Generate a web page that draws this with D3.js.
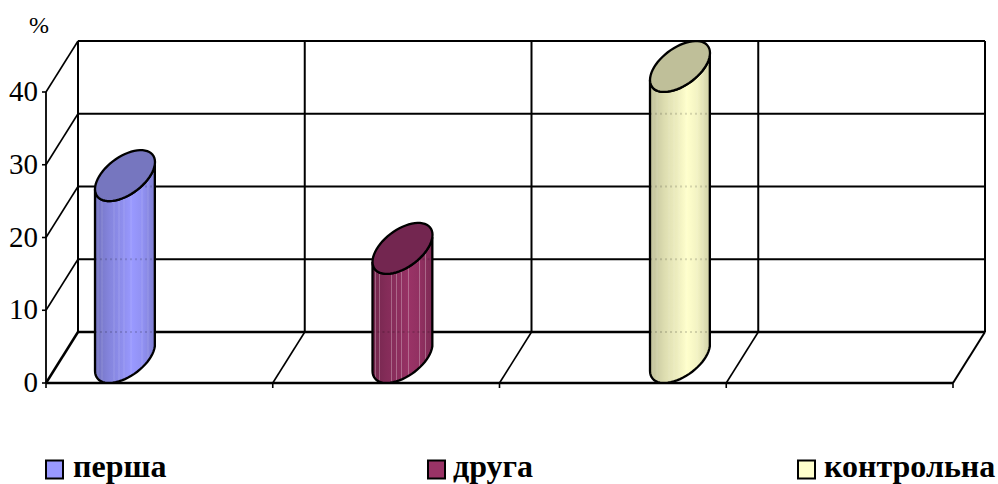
<!DOCTYPE html>
<html><head><meta charset="utf-8">
<script src="https://cdn.jsdelivr.net/npm/d3@7"></script>
<style>
html,body{margin:0;padding:0;background:#fff}
text{font-family:"Liberation Serif",serif;fill:#000}
</style></head><body><svg id="chart" width="998" height="484"></svg>
<script>
const seriesNames = ["перша", "друга", "контрольна"];
const seriesValues = [25, 15, 40];
const bodyColors = ["#9999ff", "#993366", "#ffffcc"];
const capColors = ["#7676bf", "#732650", "#bfbf99"];
const stripeOpacity = [0.14, 0.28, 0.12];
const yTicks = [0, 10, 20, 30, 40];
const slotTicks = [0, 1, 2, 3, 4];
const unitLabel = "%";

const svg = d3.select("#chart");
const y = d3.scaleLinear().domain([0, 40]).range([383, 92]);
const xFront = d3.scaleLinear().domain([0, 4]).range([46, 953]);
const xBar = d3.scalePoint().domain(seriesNames).range([109, 664]);
const depth = { dx: 32, dy: -51 };
const radius = 30;

const grid = svg.append("g").attr("stroke", "#000").attr("fill", "none");
const line = (g, x1, y1, x2, y2, w) => g.append("line")
  .attr("x1", x1).attr("y1", y1).attr("x2", x2).attr("y2", y2).attr("stroke-width", w);

// horizontal wall lines with the diagonals on the left side wall
yTicks.forEach(t => {
  const yy = y(t);
  line(grid, xFront(0) + depth.dx, yy + depth.dy, xFront(4) + depth.dx, yy + depth.dy, t === 0 ? 2.5 : 2);
  line(grid, xFront(0), yy, xFront(0) + depth.dx, yy + depth.dy, t === 0 ? 2.5 : 1.6);
  line(grid, xFront(0) - 4, yy, xFront(0), yy, 1.6);
});
// vertical wall lines and floor diagonals
slotTicks.forEach(s => {
  const xx = xFront(s);
  line(grid, xx + depth.dx, y(0) + depth.dy, xx + depth.dx, y(40) + depth.dy, 2);
  if (s > 0) line(grid, xx, y(0), xx + depth.dx, y(0) + depth.dy, s === 4 ? 2 : 1.6);
  line(grid, xx, y(0), xx, y(0) + 5, 1.6);
});
line(grid, xFront(0), y(0), xFront(4), y(0), 2.5);
line(grid, xFront(0), y(0), xFront(0), y(40), 1.8);

// tick labels
svg.append("g").selectAll("text").data(yTicks).join("text")
  .attr("x", 38).attr("y", d => y(d) + 9).attr("text-anchor", "end")
  .attr("font-size", 29).text(d => d);
svg.append("text").attr("x", 39).attr("y", 33).attr("text-anchor", "middle")
  .attr("font-size", 24).text(unitLabel);

// cylinder shading: a darker edge on the left, a highlight past the middle
const defs = svg.append("defs");
const shade = [[0, .74], [.1, .8], [.25, .87], [.45, .93], [.62, 1], [.8, .95], [1, .82]];
seriesNames.forEach((n, i) => {
  const g = defs.append("linearGradient").attr("id", "body" + i);
  shade.forEach(([o, k]) => {
    const c = d3.rgb(bodyColors[i]);
    g.append("stop").attr("offset", o).attr("stop-color", d3.rgb(c.r * k, c.g * k, c.b * k));
  });
});

// outline of a cylinder end lying in the floor plane, sheared along the depth direction
const angles = d3.range(0, 360, 6).map(a => a * Math.PI / 180);
const capPoint = (cx, cy, a) => [
  cx + Math.cos(a) * radius,
  cy - Math.cos(a) * 13.5 - Math.sin(a) * 21.6
];
const closed = d3.line().curve(d3.curveLinearClosed);

// lighter facets running down each cylinder, measured across its width
const stripeOffsets = [3, 7, 19, 24, 29, 36, 47, 53];

const bars = svg.append("g");
seriesNames.forEach((n, i) => {
  const cx = xBar(n) + depth.dx / 2;
  const base = y(0) + depth.dy / 2;
  const h = y(0) - y(seriesValues[i]);
  const top = base - h;
  const front = angles.filter(a => a >= Math.PI).map(a => capPoint(cx, base, a));
  const upper = front.slice().reverse().map(([px, py]) => [px, py - h]);
  const outline = closed(front.concat(upper));

  defs.append("clipPath").attr("id", "clip" + i).append("path").attr("d", outline);

  const g = bars.append("g");
  g.append("path").attr("d", outline).attr("fill", `url(#body${i})`);

  const inner = g.append("g").attr("clip-path", `url(#clip${i})`);
  inner.selectAll("line.stripe").data(stripeOffsets).join("line").attr("class", "stripe")
    .attr("x1", d => cx - radius + d).attr("x2", d => cx - radius + d)
    .attr("y1", top - 30).attr("y2", base + 30)
    .attr("stroke", "#fff").attr("stroke-width", 1).attr("stroke-opacity", stripeOpacity[i]);
  // wall lines faintly showing through the body
  inner.selectAll("line.through").data(yTicks).join("line").attr("class", "through")
    .attr("x1", cx - radius).attr("x2", cx + radius)
    .attr("y1", d => y(d) + depth.dy).attr("y2", d => y(d) + depth.dy)
    .attr("stroke", "#000").attr("stroke-width", 2).attr("stroke-opacity", 0.15)
    .attr("stroke-dasharray", "2 3");

  g.append("path").attr("d", outline).attr("fill", "none")
    .attr("stroke", "#000").attr("stroke-width", 2.3);
  g.append("path").attr("d", closed(angles.map(a => capPoint(cx, top, a))))
    .attr("fill", capColors[i]).attr("stroke", "#000").attr("stroke-width", 2.3);
});

// legend row
const legendX = [45, 427, 797];
const legendText = [73, 453, 824];
seriesNames.forEach((n, i) => {
  svg.append("rect").attr("x", legendX[i] + 1).attr("y", 460.5).attr("width", 17).attr("height", 18)
    .attr("fill", bodyColors[i]).attr("stroke", "#000").attr("stroke-width", 2);
  svg.append("text").attr("x", legendText[i]).attr("y", 477).attr("font-size", 32)
    .attr("font-weight", "bold").text(n);
});
</script></body></html>
